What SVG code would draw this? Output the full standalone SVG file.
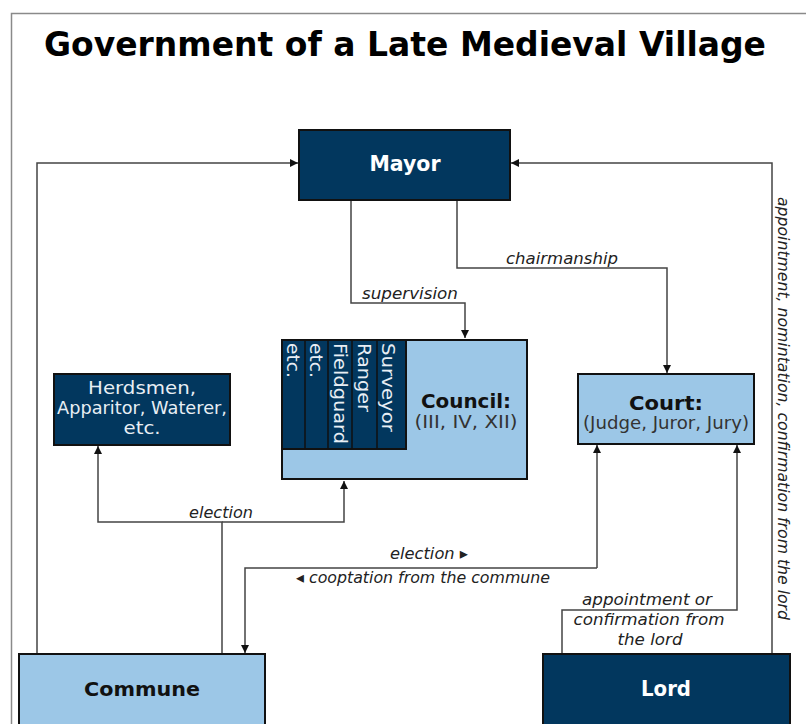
<svg xmlns="http://www.w3.org/2000/svg" width="806" height="724" viewBox="0 0 806 724">
<defs>
<marker id="ah" viewBox="0 0 10 10" refX="10" refY="5" markerWidth="8" markerHeight="8" markerUnits="userSpaceOnUse" orient="auto">
<path d="M0,0 L10,5 L0,10 z" fill="#111"/>
</marker>
<style>
text{font-family:"DejaVu Sans",Verdana,sans-serif}
.dark{fill:#02375e;stroke:#111;stroke-width:2}
.light{fill:#9cc7e7;stroke:#111;stroke-width:2}
.ttl{font-size:33px;font-weight:bold;fill:#000;text-anchor:middle}
.hw{font-size:20.5px;font-weight:bold;fill:#fff;text-anchor:middle}
.hb{font-size:20px;font-weight:bold;fill:#111;text-anchor:middle}
.sw{font-size:17px;fill:#e8eef4;text-anchor:middle}
.sb{font-size:17px;fill:#333;text-anchor:middle}
.col{font-size:18px;fill:#e8eef4}
.lbl{font-size:16px;font-style:italic;fill:#222;text-anchor:middle}
.vl{font-size:16px;font-style:italic;fill:#222;text-anchor:start}
.cn{fill:none;stroke:#444;stroke-width:1.5}
.div{stroke:#111;stroke-width:1.5}
</style>
</defs>
<rect x="0" y="0" width="806" height="724" fill="#fff"/>
<path d="M11.5,724 V13.5 H806" fill="none" stroke="#8a8a8a" stroke-width="1.5"/>
<text class="ttl" x="405" y="56" textLength="722" lengthAdjust="spacingAndGlyphs">Government of a Late Medieval Village</text>

<g id="connectors">
<path class="cn" d="M37,654 V163 H298" marker-end="url(#ah)"/>
<path class="cn" d="M772,654 V163 H511" marker-end="url(#ah)"/>
<path class="cn" d="M351,201 V303 H465 V338" marker-end="url(#ah)"/>
<path class="cn" d="M457,201 V268 H667 V373" marker-end="url(#ah)"/>
<path class="cn" d="M222,654 V522 H98 V446" marker-end="url(#ah)"/>
<path class="cn" d="M222,522 H344 V481" marker-end="url(#ah)"/>
<path class="cn" d="M597,568 V445" marker-end="url(#ah)"/>
<path class="cn" d="M597,568 H245 V653" marker-end="url(#ah)"/>
<path class="cn" d="M562,654 V610 H737 V445" marker-end="url(#ah)"/>
<text class="lbl" x="410" y="299" textLength="96" lengthAdjust="spacingAndGlyphs">supervision</text>
<text class="lbl" x="562" y="264" textLength="112" lengthAdjust="spacingAndGlyphs">chairmanship</text>
<text class="lbl" x="221" y="518" textLength="64" lengthAdjust="spacingAndGlyphs">election</text>
<text class="lbl" x="429" y="559" textLength="78" lengthAdjust="spacingAndGlyphs">election ▸</text>
<text class="lbl" x="423" y="583" textLength="254" lengthAdjust="spacingAndGlyphs">◂ cooptation from the commune</text>
<text class="lbl" x="647" y="605" textLength="130" lengthAdjust="spacingAndGlyphs">appointment or</text>
<text class="lbl" x="649" y="625" textLength="151" lengthAdjust="spacingAndGlyphs">confirmation from</text>
<text class="lbl" x="650" y="645" textLength="65" lengthAdjust="spacingAndGlyphs">the lord</text>
<text class="vl" transform="translate(778,197) rotate(90)" textLength="423" lengthAdjust="spacingAndGlyphs">appointment, nomintation, confirmation from the lord</text>
</g>

<g id="mayor">
<rect class="dark" x="299" y="130" width="211" height="70"/>
<text class="hw" x="405" y="171" textLength="71" lengthAdjust="spacingAndGlyphs">Mayor</text>
</g>

<g id="council">
<rect class="light" x="282" y="340" width="245" height="139"/>
<rect class="dark" x="282" y="340" width="124" height="109"/>
<line class="div" x1="305" y1="340" x2="305" y2="449"/>
<line class="div" x1="328" y1="340" x2="328" y2="449"/>
<line class="div" x1="352" y1="340" x2="352" y2="449"/>
<line class="div" x1="377" y1="340" x2="377" y2="449"/>
<text class="col" transform="translate(287,343) rotate(90)" textLength="35" lengthAdjust="spacingAndGlyphs">etc.</text>
<text class="col" transform="translate(310,343) rotate(90)" textLength="35" lengthAdjust="spacingAndGlyphs">etc.</text>
<text class="col" transform="translate(334,343) rotate(90)" textLength="101" lengthAdjust="spacingAndGlyphs">Fieldguard</text>
<text class="col" transform="translate(358,343) rotate(90)" textLength="69" lengthAdjust="spacingAndGlyphs">Ranger</text>
<text class="col" transform="translate(382,343) rotate(90)" textLength="89" lengthAdjust="spacingAndGlyphs">Surveyor</text>
<text class="hb" x="466" y="408" textLength="90" lengthAdjust="spacingAndGlyphs">Council:</text>
<text class="sb" x="466" y="428" textLength="103" lengthAdjust="spacingAndGlyphs">(III, IV, XII)</text>
</g>

<g id="herdsmen">
<rect class="dark" x="54" y="374" width="176" height="71"/>
<text class="sw" x="142" y="394" textLength="108" lengthAdjust="spacingAndGlyphs">Herdsmen,</text>
<text class="sw" x="142" y="414" textLength="170" lengthAdjust="spacingAndGlyphs">Apparitor, Waterer,</text>
<text class="sw" x="142" y="434" textLength="37" lengthAdjust="spacingAndGlyphs">etc.</text>
</g>

<g id="court">
<rect class="light" x="578" y="374" width="176" height="70"/>
<text class="hb" x="666" y="410" textLength="74" lengthAdjust="spacingAndGlyphs">Court:</text>
<text class="sb" x="666" y="429" textLength="166" lengthAdjust="spacingAndGlyphs">(Judge, Juror, Jury)</text>
</g>

<g id="commune">
<rect class="light" x="19" y="654" width="246" height="80"/>
<text class="hb" x="142" y="696" textLength="116" lengthAdjust="spacingAndGlyphs">Commune</text>
</g>

<g id="lord">
<rect class="dark" x="543" y="654" width="247" height="80"/>
<text class="hw" x="666" y="696" textLength="50" lengthAdjust="spacingAndGlyphs">Lord</text>
</g>
</svg>
